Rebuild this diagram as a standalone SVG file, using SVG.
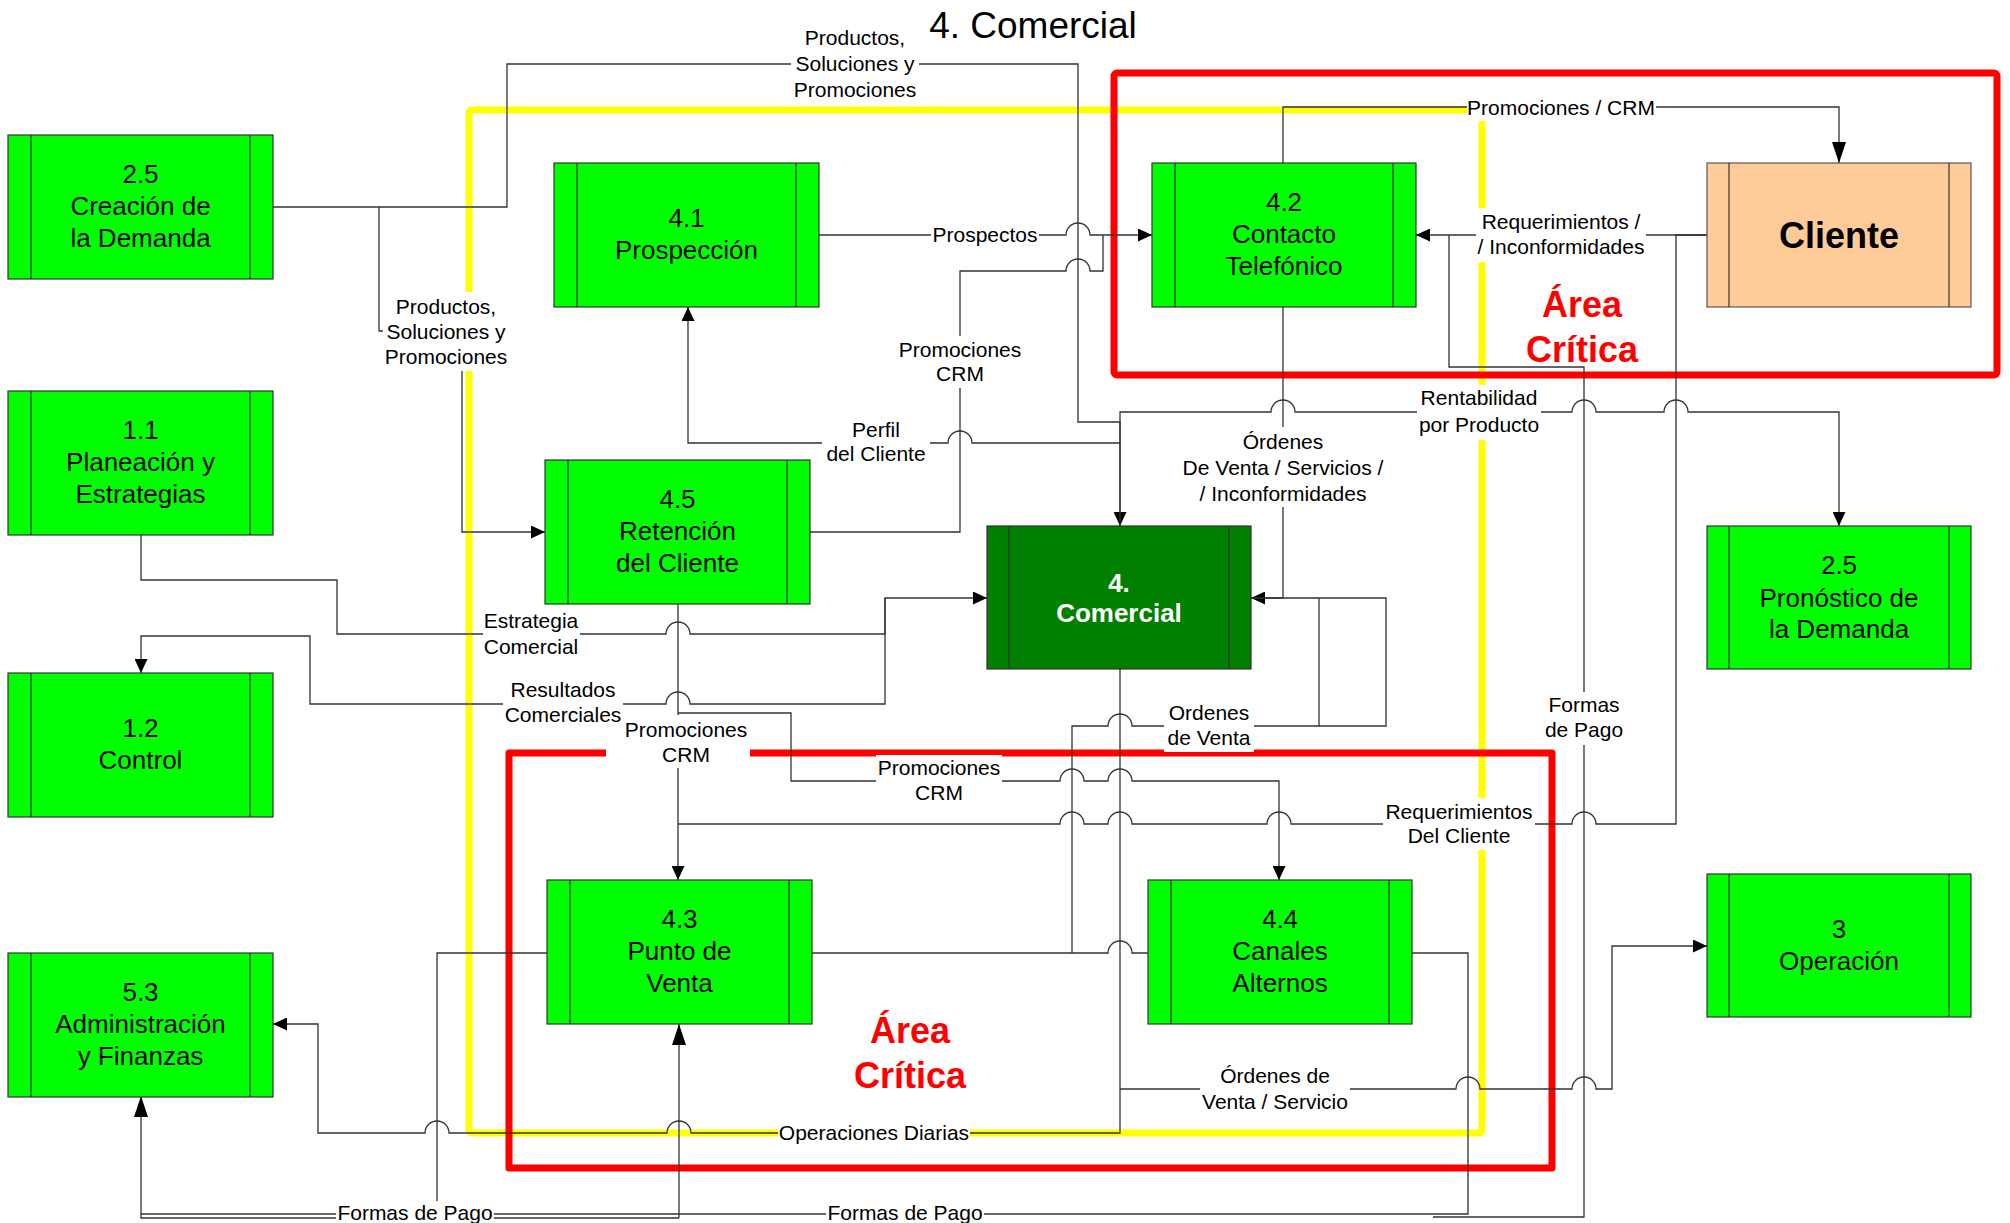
<svg xmlns="http://www.w3.org/2000/svg" width="2010" height="1223" viewBox="0 0 2010 1223">
<defs>
<style>
.n{fill:#00FF00;stroke:#333;stroke-width:1.2}
.nd{fill:#007F00;stroke:#333;stroke-width:1.2}
.nc{fill:#FFCC99;stroke:#555;stroke-width:1.2}
.bar{stroke:#333;stroke-width:1.2}
.t{font-family:"Liberation Sans",Arial,Helvetica,sans-serif;font-size:26px;text-anchor:middle;fill:#000}
.tw{font-family:"Liberation Sans",Arial,Helvetica,sans-serif;font-size:26px;font-weight:bold;text-anchor:middle;fill:#fff}
.tc{font-family:"Liberation Sans",Arial,Helvetica,sans-serif;font-size:36px;font-weight:bold;text-anchor:middle;fill:#000}
.l{font-family:"Liberation Sans",Arial,Helvetica,sans-serif;font-size:21px;text-anchor:middle;fill:#000}
.bg{fill:#fff}
.c{fill:none;stroke:#333;stroke-width:1.3}
.crit{font-family:"Liberation Sans",Arial,Helvetica,sans-serif;font-size:36px;font-weight:bold;text-anchor:middle;fill:#FF0000}
.title{font-family:"Liberation Sans",Arial,Helvetica,sans-serif;font-size:37px;text-anchor:middle;fill:#000}
</style>
<marker id="a" markerUnits="userSpaceOnUse" markerWidth="14" markerHeight="13" refX="14" refY="6.5" orient="auto"><path d="M0,0 L14,6.5 L0,13 z" fill="#000"/></marker>
<marker id="ab" markerUnits="userSpaceOnUse" markerWidth="21" markerHeight="14" refX="21" refY="7" orient="auto"><path d="M0,0 L21,7 L0,14 z" fill="#000"/></marker>
</defs>
<rect width="2010" height="1223" fill="#fff"/>
<text class="title" x="1033" y="38">4. Comercial</text>
<g id="areas">
<rect x="469" y="110" width="1013" height="1023" rx="3" fill="none" stroke="#FFFF00" stroke-width="7"/>
<rect x="1114" y="73" width="883" height="302" rx="3" fill="none" stroke="#FF0000" stroke-width="7"/>
<path d="M606,753 H509 V1168 H1552 V753 H749" fill="none" stroke="#FF0000" stroke-width="7" stroke-linejoin="round"/>
<text class="crit" x="1582" y="317">Área</text>
<text class="crit" x="1582" y="362">Crítica</text>
<text class="crit" x="910" y="1043">Área</text>
<text class="crit" x="910" y="1088">Crítica</text>
</g>
<g id="connectors">
<path class="c" d="M273,207 H507 V64 H1078 V422 H1120 V526" marker-end="url(#a)"/>
<path class="c" d="M379,207 V331 H462 V532 H545" marker-end="url(#a)"/>
<path class="c" d="M818,235 H1066 a12,12 0 0 1 24,0 H1152" marker-end="url(#a)"/>
<path class="c" d="M809,532 H960 V271 H1066 a12,12 0 0 1 24,0 H1103 V235"/>
<path class="c" d="M1707,235 H1416" marker-end="url(#a)"/>
<path class="c" d="M1283,163 V107 H1839 V163" marker-end="url(#ab)"/>
<path class="c" d="M1283,307 V598 H1251" marker-end="url(#a)"/>
<path class="c" d="M1120,526 V412 H1271 a12,12 0 0 1 24,0 H1572 a12,12 0 0 1 24,0 H1664 a12,12 0 0 1 24,0 H1839 V526" marker-end="url(#a)"/>
<path class="c" d="M1120,443 H972 a12,12 0 0 0 -24,0 H688 V307" marker-end="url(#a)"/>
<path class="c" d="M141,534 V580 H337 V634 H666 a12,12 0 0 1 24,0 H885 V598 H987" marker-end="url(#a)"/>
<path class="c" d="M885,598 V704 H690 a12,12 0 0 0 -24,0 H310 V636 H141 V673" marker-end="url(#a)"/>
<path class="c" d="M678,603 V880" marker-end="url(#a)"/>
<path class="c" d="M678,713 H791 V781 H1060 a12,12 0 0 1 24,0 H1108 a12,12 0 0 1 24,0 H1279 V880" marker-end="url(#a)"/>
<path class="c" d="M1707,235 H1676 V824 H1596 a12,12 0 0 0 -24,0 H1291 a12,12 0 0 0 -24,0 H1132 a12,12 0 0 0 -24,0 H1084 a12,12 0 0 0 -24,0 H678"/>
<path class="c" d="M812,953 H1108 a12,12 0 0 1 24,0 H1148"/>
<path class="c" d="M1072,953 V726 H1108 a12,12 0 0 1 24,0 H1386 V598 H1251"/>
<path class="c" d="M1319,598 V726"/>
<path class="c" d="M547,953 H437 V1214"/>
<path class="c" d="M1412,953 H1468 V1214 H141"/>
<path class="c" d="M679,1218 H141 V1096" marker-end="url(#ab)"/>
<path class="c" d="M679,1218 V1024" marker-end="url(#ab)"/>
<path class="c" d="M1449,235 V367 H1584 V1217 H1433"/>
<path class="c" d="M1120,669 V1133 H691 a12,12 0 0 0 -24,0 H449 a12,12 0 0 0 -24,0 H318 V1024 H273" marker-end="url(#a)"/>
<path class="c" d="M1120,1089 H1456 a12,12 0 0 1 24,0 H1572 a12,12 0 0 1 24,0 H1612 V946 H1707" marker-end="url(#a)"/>
</g>
<g id="labels">
<g><rect class="bg" x="791" y="25" width="128" height="79"/><text class="l" x="855" y="45">Productos,</text><text class="l" x="855" y="71">Soluciones y</text><text class="l" x="855" y="97">Promociones</text></g>
<g><rect class="bg" x="383" y="292" width="127" height="79"/><text class="l" x="446" y="314">Productos,</text><text class="l" x="446" y="339">Soluciones y</text><text class="l" x="446" y="364">Promociones</text></g>
<g><rect class="bg" x="931" y="222" width="108" height="28"/><text class="l" x="985" y="242">Prospectos</text></g>
<g><rect class="bg" x="897" y="336" width="126" height="52"/><text class="l" x="960" y="357">Promociones</text><text class="l" x="960" y="381">CRM</text></g>
<g><rect class="bg" x="1476" y="208" width="170" height="54"/><text class="l" x="1561" y="229">Requerimientos /</text><text class="l" x="1561" y="254">/ Inconformidades</text></g>
<g><rect class="bg" x="1467" y="96" width="189" height="25"/><text class="l" x="1561" y="115">Promociones / CRM</text></g>
<g><rect class="bg" x="1180" y="427" width="206" height="80"/><text class="l" x="1283" y="449">Órdenes</text><text class="l" x="1283" y="475">De Venta / Servicios /</text><text class="l" x="1283" y="501">/ Inconformidades</text></g>
<g><rect class="bg" x="1417" y="385" width="124" height="55"/><text class="l" x="1479" y="405">Rentabilidad</text><text class="l" x="1479" y="432">por Producto</text></g>
<g><rect class="bg" x="822" y="417" width="108" height="50"/><text class="l" x="876" y="437">Perfil</text><text class="l" x="876" y="461">del Cliente</text></g>
<g><rect class="bg" x="483" y="608" width="97" height="52"/><text class="l" x="531" y="628">Estrategia</text><text class="l" x="531" y="654">Comercial</text></g>
<g><rect class="bg" x="503" y="677" width="120" height="51"/><text class="l" x="563" y="697">Resultados</text><text class="l" x="563" y="722">Comerciales</text></g>
<g><rect class="bg" x="622" y="715" width="128" height="53"/><text class="l" x="686" y="737">Promociones</text><text class="l" x="686" y="762">CRM</text></g>
<g><rect class="bg" x="876" y="755" width="126" height="51"/><text class="l" x="939" y="775">Promociones</text><text class="l" x="939" y="800">CRM</text></g>
<g><rect class="bg" x="1164" y="700" width="90" height="52"/><text class="l" x="1209" y="720">Ordenes</text><text class="l" x="1209" y="745">de Venta</text></g>
<g><rect class="bg" x="1383" y="798" width="152" height="52"/><text class="l" x="1459" y="819">Requerimientos</text><text class="l" x="1459" y="843">Del Cliente</text></g>
<g><rect class="bg" x="1545" y="692" width="78" height="53"/><text class="l" x="1584" y="712">Formas</text><text class="l" x="1584" y="737">de Pago</text></g>
<g><rect class="bg" x="1200" y="1062" width="150" height="53"/><text class="l" x="1275" y="1083">Órdenes de</text><text class="l" x="1275" y="1109">Venta / Servicio</text></g>
<g><rect class="bg" x="778" y="1121" width="192" height="25"/><text class="l" x="874" y="1140">Operaciones Diarias</text></g>
<g><rect class="bg" x="336" y="1201" width="158" height="22"/><text class="l" x="415" y="1220">Formas de Pago</text></g>
<g><rect class="bg" x="826" y="1201" width="158" height="22"/><text class="l" x="905" y="1220">Formas de Pago</text></g>
</g>
<g id="n25c"><rect class="n" x="8" y="135" width="265" height="144"/><line class="bar" x1="31" y1="135" x2="31" y2="279"/><line class="bar" x1="250" y1="135" x2="250" y2="279"/><text class="t" x="140.5" y="183">2.5</text><text class="t" x="140.5" y="215">Creación de</text><text class="t" x="140.5" y="247">la Demanda</text></g>
<g id="n11"><rect class="n" x="8" y="391" width="265" height="144"/><line class="bar" x1="31" y1="391" x2="31" y2="535"/><line class="bar" x1="250" y1="391" x2="250" y2="535"/><text class="t" x="140.5" y="439">1.1</text><text class="t" x="140.5" y="471">Planeación y</text><text class="t" x="140.5" y="503">Estrategias</text></g>
<g id="n12"><rect class="n" x="8" y="673" width="265" height="144"/><line class="bar" x1="31" y1="673" x2="31" y2="817"/><line class="bar" x1="250" y1="673" x2="250" y2="817"/><text class="t" x="140.5" y="737">1.2</text><text class="t" x="140.5" y="769">Control</text></g>
<g id="n53"><rect class="n" x="8" y="953" width="265" height="144"/><line class="bar" x1="31" y1="953" x2="31" y2="1097"/><line class="bar" x1="250" y1="953" x2="250" y2="1097"/><text class="t" x="140.5" y="1001">5.3</text><text class="t" x="140.5" y="1033">Administración</text><text class="t" x="140.5" y="1065">y Finanzas</text></g>
<g id="n41"><rect class="n" x="554" y="163" width="265" height="144"/><line class="bar" x1="577" y1="163" x2="577" y2="307"/><line class="bar" x1="796" y1="163" x2="796" y2="307"/><text class="t" x="686.5" y="227">4.1</text><text class="t" x="686.5" y="259">Prospección</text></g>
<g id="n45"><rect class="n" x="545" y="460" width="265" height="144"/><line class="bar" x1="568" y1="460" x2="568" y2="604"/><line class="bar" x1="787" y1="460" x2="787" y2="604"/><text class="t" x="677.5" y="508">4.5</text><text class="t" x="677.5" y="540">Retención</text><text class="t" x="677.5" y="572">del Cliente</text></g>
<g id="n43"><rect class="n" x="547" y="880" width="265" height="144"/><line class="bar" x1="570" y1="880" x2="570" y2="1024"/><line class="bar" x1="789" y1="880" x2="789" y2="1024"/><text class="t" x="679.5" y="928">4.3</text><text class="t" x="679.5" y="960">Punto de</text><text class="t" x="679.5" y="992">Venta</text></g>
<g id="n42"><rect class="n" x="1152" y="163" width="264" height="144"/><line class="bar" x1="1175" y1="163" x2="1175" y2="307"/><line class="bar" x1="1393" y1="163" x2="1393" y2="307"/><text class="t" x="1284" y="211">4.2</text><text class="t" x="1284" y="243">Contacto</text><text class="t" x="1284" y="275">Telefónico</text></g>
<g id="n44"><rect class="n" x="1148" y="880" width="264" height="144"/><line class="bar" x1="1171" y1="880" x2="1171" y2="1024"/><line class="bar" x1="1389" y1="880" x2="1389" y2="1024"/><text class="t" x="1280" y="928">4.4</text><text class="t" x="1280" y="960">Canales</text><text class="t" x="1280" y="992">Alternos</text></g>
<g id="n4"><rect class="nd" x="987" y="526" width="264" height="143"/><line class="bar" x1="1009" y1="526" x2="1009" y2="669"/><line class="bar" x1="1229" y1="526" x2="1229" y2="669"/><text class="tw" x="1119" y="592">4.</text><text class="tw" x="1119" y="622">Comercial</text></g>
<g id="cliente"><rect class="nc" x="1707" y="163" width="264" height="144"/><line class="bar" x1="1729" y1="163" x2="1729" y2="307"/><line class="bar" x1="1949" y1="163" x2="1949" y2="307"/><text class="tc" x="1839" y="248">Cliente</text></g>
<g id="n25p"><rect class="n" x="1707" y="526" width="264" height="143"/><line class="bar" x1="1729" y1="526" x2="1729" y2="669"/><line class="bar" x1="1949" y1="526" x2="1949" y2="669"/><text class="t" x="1839" y="574">2.5</text><text class="t" x="1839" y="607">Pronóstico de</text><text class="t" x="1839" y="638">la Demanda</text></g>
<g id="n3"><rect class="n" x="1707" y="874" width="264" height="143"/><line class="bar" x1="1729" y1="874" x2="1729" y2="1017"/><line class="bar" x1="1949" y1="874" x2="1949" y2="1017"/><text class="t" x="1839" y="938">3</text><text class="t" x="1839" y="970">Operación</text></g>
</svg>
